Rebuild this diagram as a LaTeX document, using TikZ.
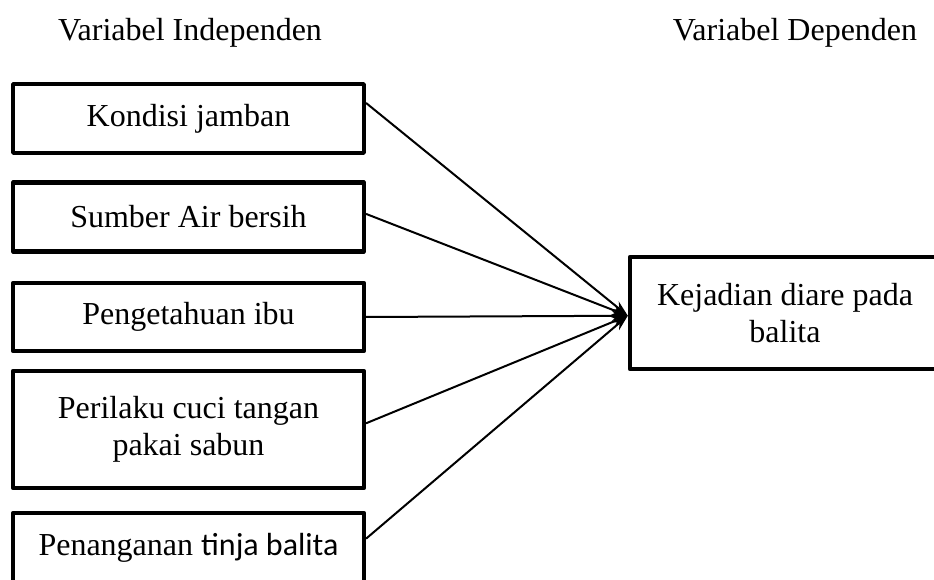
\documentclass[tikz,border=0pt]{standalone}
\usepackage{fontspec}
\setmainfont{Liberation Serif}
\newfontfamily\calibri{Carlito}
\usetikzlibrary{arrows.meta}

\begin{document}
\begin{tikzpicture}[x=0.75pt, y=-0.75pt, >={Stealth[length=12pt, width=8pt]},
  every node/.style={font=\fontsize{24}{28}\selectfont},
  varbox/.style={draw, line width=3.3pt, line join=round, align=center,
    inner sep=0pt, minimum width=263pt}]
  \useasboundingbox (0,0) rectangle (934,580);

  % Headings
  \node (indep) at (190,33) {Variabel Independen};
  \node (depen) at (795,33) {Variabel Dependen};

  % Independent variables
  \node[varbox, minimum height=51.5pt] (jamban) at (188.5,118.5) {Kondisi jamban};
  \node[varbox, minimum height=51.5pt] (air) at (188.5,217) {Sumber Air bersih};
  \node[varbox, minimum height=51pt] (ibu) at (188.5,317) {Pengetahuan ibu};
  \node[varbox, minimum height=88pt] (sabun) at (188.5,429.5)
    {Perilaku cuci tangan\\pakai sabun};
  \node[varbox, minimum height=52.5pt] (tinja) at (188.5,548)
    {Penanganan {\calibri tinja balita}};

  % Dependent variable
  \node[varbox, minimum width=232.5pt, minimum height=84pt] (diare) at (785,313)
    {Kejadian diare pada\\balita};

  % Arrows into the dependent variable
  \draw[->, line width=1.5pt] (jamban.5) -- (diare.181.5);
  \draw[->, line width=1.5pt] (air.1) -- (diare.181.5);
  \draw[->, line width=1.5pt] (ibu.east) -- (diare.181.5);
  \draw[->, line width=1.5pt] (sabun.2) -- (diare.181.5);
  \draw[->, line width=1.5pt] (tinja.3) -- (diare.181.5);
\end{tikzpicture}
\end{document}
